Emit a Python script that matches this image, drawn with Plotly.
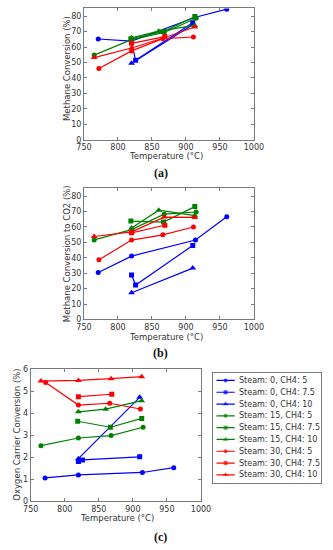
import plotly.graph_objects as go

W, H = 333, 550

# ---------------- data ----------------
series_names = [
    "Steam: 0, CH4: 5", "Steam: 0, CH4: 7.5", "Steam: 0, CH4: 10",
    "Steam: 15, CH4: 5", "Steam: 15, CH4: 7.5", "Steam: 15, CH4: 10",
    "Steam: 30, CH4: 5", "Steam: 30, CH4: 7.5", "Steam: 30, CH4: 10",
]

temp_s0_c5 = [771, 820, 914, 960]
temp_s0_c75 = [820, 826, 910]
temp_s0_c10 = [820, 910]
temp_s15_c5 = [765, 820, 868, 915]
temp_s15_c75 = [819, 867, 913]
temp_s15_c10 = [820, 860, 913]
temp_s30_c5 = [772, 820, 866, 911]
temp_s30_c75 = [820, 869]
temp_s30_c10 = [765, 820, 868, 913]

# (a) Methane conversion (%)
ch4_s0_c5 = [65.2, 63.8, 79.3, 84.5]
ch4_s0_c75 = [63.0, 51.4, 75.7]
ch4_s0_c10 = [49.5, 74.4]
ch4_s15_c5 = [54.8, 64.8, 69.4, 78.6]
ch4_s15_c75 = [65.4, 70.0, 79.8]
ch4_s15_c10 = [66.0, 70.3, 74.0]
ch4_s30_c5 = [46.1, 57.5, 65.4, 66.5]
ch4_s30_c75 = [62.4, 66.8]
ch4_s30_c10 = [53.2, 59.4, 66.0, 73.0]

# (b) Methane conversion to CO2 (%)
co2_s0_c5 = [30.5, 41.1, 51.5, 66.6]
co2_s0_c75 = [28.8, 22.3, 48.0]
co2_s0_c10 = [17.3, 33.3]
co2_s15_c5 = [51.6, 58.3, 68.3, 69.7]
co2_s15_c75 = [63.8, 63.2, 73.2]
co2_s15_c10 = [59.4, 70.9, 67.4]
co2_s30_c5 = [38.7, 51.5, 54.9, 60.0]
co2_s30_c75 = [56.2, 61.1]
co2_s30_c10 = [53.8, 56.8, 66.4, 66.2]

# (c) Oxygen carrier conversion (%)
oc_s0_c5 = [1.05, 1.19, 1.30, 1.52]
oc_s0_c75 = [1.80, 1.87, 2.01]
oc_s0_c10 = [1.93, 4.72]
oc_s15_c5 = [2.52, 2.87, 2.98, 3.36]
oc_s15_c75 = [3.63, 3.36, 3.76]
oc_s15_c10 = [4.06, 4.18, 4.57]
oc_s30_c5 = [5.40, 4.37, 4.45, 4.19]
oc_s30_c75 = [4.75, 4.86]
oc_s30_c10 = [5.46, 5.49, 5.57, 5.66]

x_ticks = [750, 800, 850, 900, 950, 1000]
y_ticks_conv = [0, 10, 20, 30, 40, 50, 60, 70, 80]
y_ticks_oc = [0, 1, 2, 3, 4, 5, 6]

temps = [temp_s0_c5, temp_s0_c75, temp_s0_c10,
         temp_s15_c5, temp_s15_c75, temp_s15_c10,
         temp_s30_c5, temp_s30_c75, temp_s30_c10]
panel_a = [ch4_s0_c5, ch4_s0_c75, ch4_s0_c10, ch4_s15_c5, ch4_s15_c75,
           ch4_s15_c10, ch4_s30_c5, ch4_s30_c75, ch4_s30_c10]
panel_b = [co2_s0_c5, co2_s0_c75, co2_s0_c10, co2_s15_c5, co2_s15_c75,
           co2_s15_c10, co2_s30_c5, co2_s30_c75, co2_s30_c10]
panel_c = [oc_s0_c5, oc_s0_c75, oc_s0_c10, oc_s15_c5, oc_s15_c75,
           oc_s15_c10, oc_s30_c5, oc_s30_c75, oc_s30_c10]

# ---------------- styles ----------------
colors = ["#0000ff"] * 3 + ["#008000"] * 3 + ["#ff0000"] * 3
symbols = ["circle", "square", "triangle-up"] * 3
msizes = [5, 5, 6] * 3

FONT = "DejaVu Sans"
TXT = "#333333"
FRAME = "#7a7a7a"

fig = go.Figure()
panels = [("x", "y", panel_a), ("x2", "y2", panel_b), ("x3", "y3", panel_c)]
for p, (xa, ya, vals) in enumerate(panels):
    for i, name in enumerate(series_names):
        fig.add_trace(go.Scatter(
            x=temps[i], y=vals[i], xaxis=xa, yaxis=ya,
            mode="lines+markers", name=name, showlegend=False,
            line=dict(color=colors[i], width=1.2),
            marker=dict(symbol=symbols[i], size=msizes[i], color=colors[i],
                        line=dict(width=0)),
        ))

# ---- compact legend (matplotlib-like) drawn in its own axis box ----
# legend-axis units: x in [0, 1] across the box, y = entry index
LEG_X_LINE = [0.03, 0.115, 0.20]
LEG_X_TEXT = 0.225
for i, name in enumerate(series_names):
    fig.add_trace(go.Scatter(
        x=LEG_X_LINE, y=[i] * 3, xaxis="x4", yaxis="y4",
        mode="lines+markers", name=name, showlegend=False, hoverinfo="skip",
        line=dict(color=colors[i], width=1.2),
        marker=dict(symbol=symbols[i], size=[0, msizes[i] - 1, 0],
                    color=colors[i], line=dict(width=0)),
    ))
    fig.add_annotation(text=name, x=LEG_X_TEXT, y=i, xref="x4", yref="y4",
                       xanchor="left", yanchor="middle", showarrow=False,
                       font=dict(family=FONT, size=8, color=TXT))


def px_x(v):
    return v / W


def px_y(v):
    return 1 - v / H


def xaxis(domain, anchor):
    return dict(domain=domain, anchor=anchor, range=[750, 1000],
                tickvals=x_ticks, ticks="inside", ticklen=3, tickcolor=FRAME,
                showline=True, linecolor=FRAME, linewidth=1, mirror="ticks",
                showgrid=False, zeroline=False,
                tickfont=dict(family=FONT, size=8, color=TXT))


def yaxis(domain, anchor, rng, tv):
    return dict(domain=domain, anchor=anchor, range=rng,
                tickvals=tv, ticks="inside", ticklen=3, tickcolor=FRAME,
                showline=True, linecolor=FRAME, linewidth=1, mirror="ticks",
                showgrid=False, zeroline=False,
                tickfont=dict(family=FONT, size=8, color=TXT))


n = len(series_names)
fig.update_layout(
    width=W, height=H, margin=dict(l=0, r=0, t=0, b=0),
    paper_bgcolor="white", plot_bgcolor="white",
    hovermode=False,
    xaxis=xaxis([px_x(80.3), px_x(260)], "y"),
    yaxis=yaxis([px_y(138), px_y(4.5)], "x", [0, 85], y_ticks_conv),
    xaxis2=xaxis([px_x(80.3), px_x(260)], "y2"),
    yaxis2=yaxis([px_y(320.7), px_y(187.5)], "x2", [0, 85], y_ticks_conv),
    xaxis3=xaxis([px_x(24), px_x(204)], "y3"),
    yaxis3=yaxis([px_y(505.3), px_y(371.3)], "x3", [0, 6], y_ticks_oc),
    xaxis4=dict(domain=[px_x(217), px_x(330.5)], anchor="y4", range=[0, 1],
                showline=True, mirror=True, linecolor=FRAME, linewidth=1,
                showgrid=False, zeroline=False, showticklabels=False,
                ticks="", fixedrange=True),
    yaxis4=dict(domain=[px_y(486.7), px_y(374.7)], anchor="x4",
                range=[n - 1 + 0.667, -0.667],
                showline=True, mirror=True, linecolor=FRAME, linewidth=1,
                showgrid=False, zeroline=False, showticklabels=False,
                ticks="", fixedrange=True),
    showlegend=False,
)

annotations = [
    # axis titles
    dict(text="Temperature (°C)", x=166.7, y=155),
    dict(text="Temperature (°C)", x=166.7, y=338.3),
    dict(text="Temperature (°C)", x=115, y=523),
    dict(text="Methane Conversion (%)", x=61.7, y=65.7, textangle=-90),
    dict(text="Methane Conversion to CO2 (%)", x=61.7, y=254, textangle=-90),
    dict(text="Oxygen Carrier Conversion (%)", x=10, y=437.4, textangle=-90),
]
for a in annotations:
    fig.add_annotation(text=a["text"], x=px_x(a["x"]), y=px_y(a["y"]),
                       xref="paper", yref="paper", showarrow=False,
                       textangle=a.get("textangle", 0),
                       xanchor="center", yanchor="middle",
                       font=dict(family=FONT, size=8.5, color=TXT))

for lab, (x, y) in [("(a)", (161.5, 171.7)), ("(b)", (161.5, 354.5)),
                    ("(c)", (161.5, 541.5))]:
    fig.add_annotation(text="<b>" + lab + "</b>", x=px_x(x), y=px_y(y),
                       xref="paper", yref="paper", showarrow=False,
                       xanchor="center", yanchor="middle",
                       font=dict(family="Liberation Serif", size=12,
                                 color="#111111"))

# the page's default 8px body margin would shift the 333x550 figure
fig.write_html("out.html",
               config={"displayModeBar": False, "staticPlot": True},
               post_script="document.body.style.margin='0px';")
